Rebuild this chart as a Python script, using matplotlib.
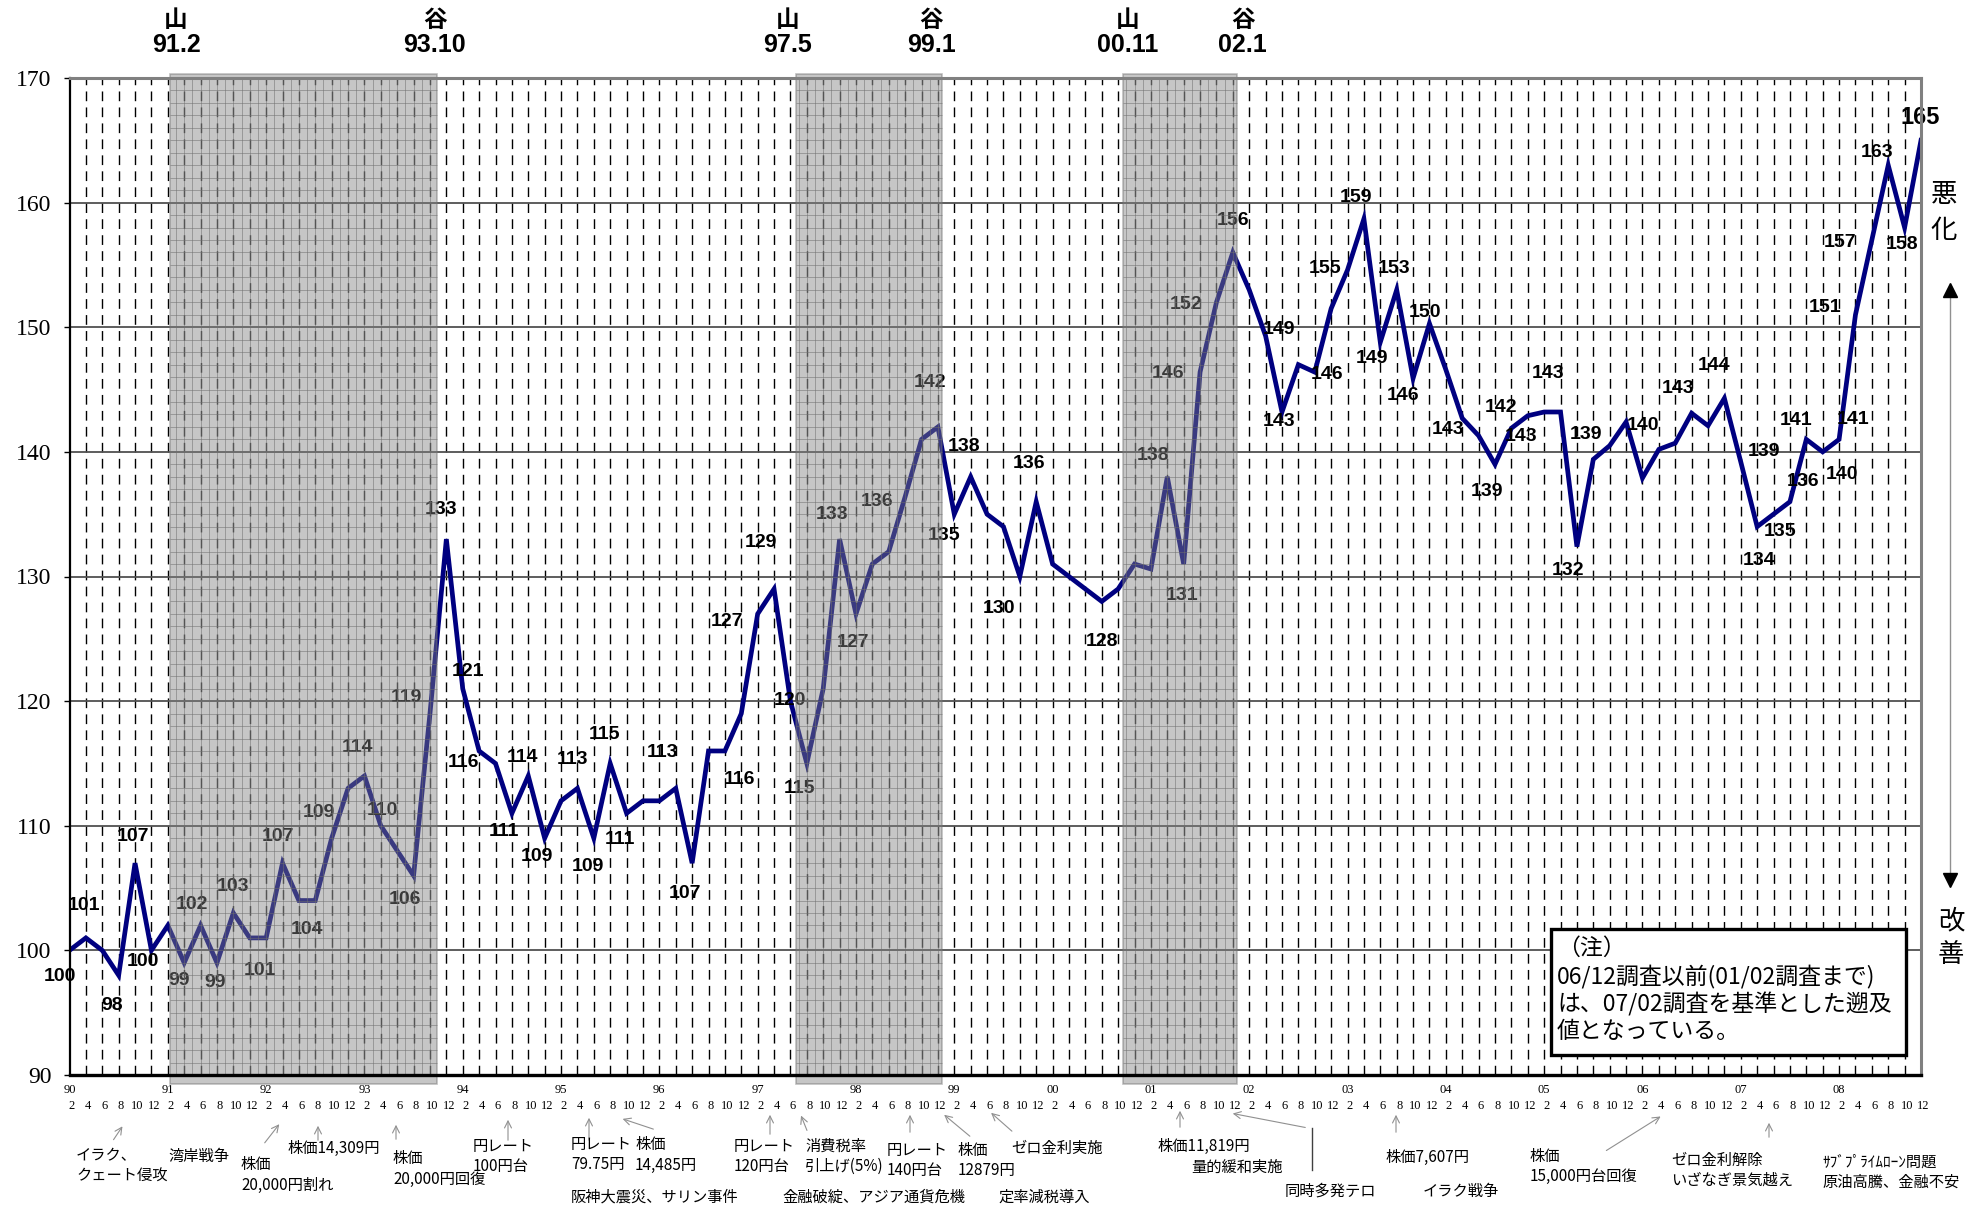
import numpy as np
import matplotlib
matplotlib.use("Agg")
import matplotlib.pyplot as plt
from matplotlib.patches import Rectangle
from matplotlib.lines import Line2D

# ---------------- data ----------------
years = ["90", "91", "92", "93", "94", "95", "96", "97", "98", "99",
         "00", "01", "02", "03", "04", "05", "06", "07", "08"]
months = ["2", "4", "6", "8", "10", "12"]

v90 = [100, 101, 100, 98, 107, 100]
v91 = [102, 99, 102, 99, 103, 101]
v92 = [101, 107, 104, 104, 109, 113]
v93 = [114, 110, 108, 106, 119, 133]
v94 = [121, 116, 115, 111, 114, 109]
v95 = [112, 113, 109, 115, 111, 112]
v96 = [112, 113, 107, 116, 116, 119]
v97 = [127, 129, 120, 115, 121, 133]
v98 = [127, 131, 132, 136.4, 141, 142]
v99 = [135, 138, 135, 134, 130, 136]
v00 = [131, 130, 129, 128, 129, 131]
v01 = [130.6, 138, 131, 146.4, 152, 156]
v02 = [153, 149.3, 143.2, 147, 146.4, 151.5]
v03 = [154.6, 158.7, 148.8, 153, 145.9, 150.3]
v04 = [146.6, 142.7, 141.3, 139, 141.9, 142.9]
v05 = [143.2, 143.2, 132.4, 139.4, 140.5, 142.4]
v06 = [137.9, 140.2, 140.7, 143.1, 142.1, 144.3]
v07 = [139.2, 134, 135, 136, 141, 140]
v08 = [141, 151, 157, 163, 158, 165]
values = (v90 + v91 + v92 + v93 + v94 + v95 + v96 + v97 + v98 + v99 +
          v00 + v01 + v02 + v03 + v04 + v05 + v06 + v07 + v08)

turn_kinds = ["山", "谷", "山", "谷", "山", "谷"]
turn_dates = ["91.2", "93.10", "97.5", "99.1", "00.11", "02.1"]
yticks = [90, 100, 110, 120, 130, 140, 150, 160, 170]

events = [
    "イラク、\nクェート侵攻", "湾岸戦争", "株価\n20,000円割れ", "株価14,309円",
    "株価\n20,000円回復", "円レート\n100円台", "円レート\n79.75円", "株価\n14,485円",
    "阪神大震災、サリン事件", "円レート\n120円台", "消費税率\n引上げ(5%)",
    "金融破綻、アジア通貨危機", "円レート\n140円台", "株価\n12879円", "ゼロ金利実施",
    "定率減税導入", "株価11,819円", "量的緩和実施", "同時多発テロ", "株価7,607円",
    "イラク戦争", "株価\n15,000円台回復", "ゼロ金利解除\nいざなぎ景気越え",
    "ｻﾌﾞﾌﾟﾗｲﾑﾛｰﾝ問題\n原油高騰、金融不安",
]
note_lines = ["（注）", "06/12調査以前(01/02調査まで)", "は、07/02調査を基準とした遡及",
              "値となっている。"]

# ---------------- layout (not data) ----------------
W, H = 1981, 1208
shade_spans = [(6.15, 22.4), (44.35, 53.25), (64.3, 71.27)]
turn_label_x = [6.5, 22.3, 43.8, 52.6, 64.6, 71.6]

# data labels: (point index, label x, label y) in data coordinates
label_layout = [
    (0, -0.6, 97.9), (1, 0.9, 103.6), (3, 2.6, 95.6), (4, 3.86, 109.1), (5, 4.5, 99.1),
    (7, 6.7, 97.6), (8, 7.5, 103.7), (9, 8.9, 97.4), (10, 9.96, 105.1), (12, 11.6, 98.4),
    (13, 12.7, 109.1), (15, 14.5, 101.7), (16, 15.24, 111.1), (18, 17.6, 116.3),
    (19, 19.1, 111.2), (21, 20.46, 104.1), (22, 20.55, 120.3), (23, 22.67, 135.4),
    (24, 24.34, 122.4), (25, 24.05, 115.1), (27, 26.5, 109.5), (28, 27.66, 115.5),
    (29, 28.54, 107.5), (31, 30.67, 115.3), (32, 31.63, 106.7), (33, 32.65, 117.3),
    (34, 33.57, 108.9), (37, 36.2, 115.9), (38, 37.54, 104.6), (40, 40.89, 113.7),
    (42, 40.14, 126.4), (43, 42.2, 132.7), (44, 43.99, 120.06), (45, 44.54, 113.0),
    (47, 46.53, 134.95), (48, 47.84, 124.7), (51, 49.26, 136.0), (53, 52.51, 145.6),
    (54, 53.4, 133.3), (55, 54.6, 140.4), (58, 56.7, 127.4), (59, 58.56, 139.1),
    (63, 63.02, 124.8), (67, 66.13, 139.7), (68, 67.88, 128.5), (69, 67.05, 146.3),
    (70, 68.12, 151.8), (71, 71.0, 158.6), (73, 73.8, 149.8), (74, 73.8, 142.4),
    (76, 76.77, 146.2), (78, 76.6, 154.7), (79, 78.54, 160.4), (80, 79.5, 147.5),
    (81, 80.81, 154.7), (82, 81.38, 144.5), (83, 82.74, 151.2), (85, 84.16, 141.8),
    (87, 86.49, 136.8), (88, 87.37, 143.6), (89, 88.62, 141.2), (90, 90.25, 146.3),
    (92, 91.46, 130.5), (93, 92.58, 141.4), (97, 96.03, 142.1), (99, 98.2, 145.05),
    (101, 100.38, 146.9), (102, 103.43, 140.05), (103, 103.09, 131.3),
    (104, 104.41, 133.6), (105, 105.8, 137.6), (106, 105.39, 142.5),
    (107, 108.18, 138.2), (108, 108.85, 142.6), (109, 107.12, 151.6),
    (110, 108.08, 156.8), (111, 110.3, 164.0), (112, 111.85, 156.6),
    (113, 112.92, 166.8),
]

# event text positions: left x, center y of first line (pixels from top-left)
event_pos = [
    (76, 1156), (168, 1156), (241, 1165), (288, 1148), (393, 1159), (473, 1146),
    (571, 1145), (635, 1145), (571, 1197), (734, 1146), (805, 1146), (782, 1197),
    (887, 1151), (958, 1150), (1011, 1148), (998, 1197), (1157, 1146), (1191, 1167),
    (1285, 1191), (1386, 1157), (1423, 1191), (1530, 1156), (1671, 1160), (1822, 1162),
]
line_gap = 20
arrows = [
    ((112, 1142), (124, 1124)), ((263, 1145), (281, 1122)), ((318, 1143), (318, 1123)),
    ((396, 1142), (396, 1122)), ((508, 1143), (508, 1117)), ((589, 1143), (589, 1115)),
    ((656, 1130), (620, 1118)), ((770, 1137), (770, 1112)), ((808, 1133), (800, 1113)),
    ((910, 1135), (910, 1112)), ((972, 1138), (942, 1113)), ((1014, 1133), (989, 1111)),
    ((1180, 1130), (1180, 1108)), ((1308, 1128), (1230, 1113)), ((1396, 1135), (1396, 1112)),
    ((1604, 1152), (1663, 1115)), ((1769, 1140), (1769, 1120)),
]
note_line_y = [948, 977, 1004, 1031]


def P(x, y):
    return (x / W, 1 - y / H)


SANS = "Liberation Sans"
CJK = "Noto Sans CJK JP"
SERIF = "Liberation Serif"

fig = plt.figure(figsize=(W / 100, H / 100), dpi=100)
fig.patch.set_facecolor("white")
x0, x1 = 69.5, 1921
y0, y1 = 78, 1075
ax = fig.add_axes([x0 / W, 1 - y1 / H, (x1 - x0) / W, (y1 - y0) / H])
n = len(values)
xs = np.arange(n)
ax.set_xlim(0, n - 1)
ax.set_ylim(90, 170)

# grid
ax.vlines(xs[1:-1], 90, 170, colors="black", linewidth=1.0,
          linestyles=(0, (7, 4.5)), zorder=1)
ax.hlines(yticks[1:-1], 0, n - 1, colors="#505050", linewidth=1.3, zorder=1.5)

# series
ax.plot(xs, values, color="#000080", linewidth=3.4, zorder=3,
        solid_joinstyle="miter")

for i, lx, ly in label_layout:
    ax.text(lx, ly, f"{round(values[i])}", ha="center", va="center",
            fontsize=17 if i == n - 1 else 14, fontweight="bold",
            family=[SANS, "DejaVu Sans"], color="black", zorder=4)

# recession shading (drawn over the line)
for s, e in shade_spans:
    ax.add_patch(Rectangle((s, 89.3), e - s, 81.0, facecolor="#828282", alpha=0.45,
                           edgecolor="#707070", linewidth=1.2, zorder=5, clip_on=False))
    ax.hlines(np.arange(91, 170), s, e, colors="#6e6e6e", linewidth=0.6,
              alpha=0.6, zorder=5.5)
    ax.vlines(np.arange(np.ceil(s * 2) / 2, e, 0.5), 90, 170, colors="#6e6e6e",
              linewidth=0.6, alpha=0.6, zorder=5.5)

# turning points labels
tr = ax.get_xaxis_transform()
for kind, date, tx in zip(turn_kinds, turn_dates, turn_label_x):
    px = x0 + tx * (x1 - x0) / (n - 1)
    fig.text(*P(px, 20), kind, ha="center", va="center", fontsize=17,
             fontweight="bold", family=[CJK])
    fig.text(*P(px, 45), date, ha="center", va="center", fontsize=18,
             fontweight="bold", family=[SANS])

# spines
for side in ["top", "right"]:
    ax.spines[side].set_color("#808080")
    ax.spines[side].set_linewidth(2.2)
ax.spines["left"].set_color("black")
ax.spines["left"].set_linewidth(1.6)
ax.spines["bottom"].set_color("black")
ax.spines["bottom"].set_linewidth(2.4)
for sp in ax.spines.values():
    sp.set_zorder(6)

ax.set_yticks(yticks)
ax.set_yticklabels([str(t) for t in yticks], fontsize=17, family=SERIF)
ax.tick_params(axis="y", length=4, width=1, pad=9, direction="out")
ax.set_xticks([])

# x tick labels (years and months)
for k, yy in enumerate(years):
    ax.text(k * 6, -0.0155, yy, transform=tr, ha="center", va="center",
            fontsize=9, family=SERIF)
    for j, mm in enumerate(months):
        ax.text(k * 6 + j + 0.15, -0.0315, mm, transform=tr, ha="center",
                va="center", fontsize=9, family=SERIF)

# events
for txt, (ex, ey) in zip(events, event_pos):
    for k, line in enumerate(txt.split("\n")):
        fig.text(*P(ex, ey + k * line_gap), line, ha="left", va="center",
                 fontsize=11, family=[CJK, "DejaVu Sans"])
for (sx, sy), (tx_, ty_) in arrows:
    ax.annotate("", xy=P(tx_, ty_), xycoords="figure fraction",
                xytext=P(sx, sy), textcoords="figure fraction",
                arrowprops=dict(arrowstyle="->,head_length=0.5,head_width=0.25",
                                color="#909090", lw=0.8), annotation_clip=False)
fig.add_artist(Line2D([1312 / W, 1312 / W], [1 - 1128 / H, 1 - 1170 / H],
                      color="#404040", lw=1.0, transform=fig.transFigure))

# note box
fig.add_artist(Rectangle(P(1551, 1055), (1906 - 1551) / W, (1055 - 929) / H,
                         facecolor="white", edgecolor="black", linewidth=2.4,
                         transform=fig.transFigure, zorder=7))
for line, ly in zip(note_lines, note_line_y):
    fig.text(*P(1557, ly), line, ha="left", va="center", fontsize=16.5,
             family=[CJK, "DejaVu Sans"], zorder=8)

# right side indicator
for ch, (cx, cy) in zip(["悪", "化", "改", "善"],
                        [(1944, 195), (1944, 230), (1951, 921), (1951, 955)]):
    fig.text(*P(cx, cy), ch, ha="center", va="center", fontsize=19, family=[CJK])
fig.add_artist(Line2D([1950 / W, 1950 / W], [1 - 292 / H, 1 - 878 / H],
                      color="#909090", lw=1.0, transform=fig.transFigure))
fig.add_artist(Line2D([1950 / W], [1 - 290 / H], marker="^", markersize=10,
                      color="black", transform=fig.transFigure))
fig.add_artist(Line2D([1950 / W], [1 - 880 / H], marker="v", markersize=10,
                      color="black", transform=fig.transFigure))

fig.savefig("out.png", dpi=100, facecolor="white")
